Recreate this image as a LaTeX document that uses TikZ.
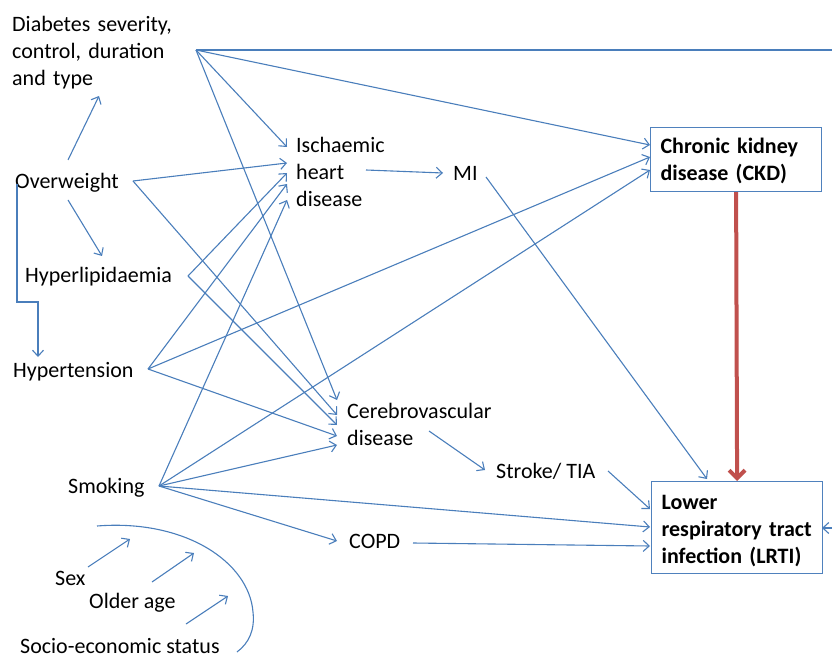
\documentclass[tikz,border=0pt]{standalone}
\usepackage{fontspec}
\setmainfont{Carlito}
\usetikzlibrary{arrows.meta}
\definecolor{linkblue}{HTML}{4A7EBB}
\definecolor{boxblue}{HTML}{4F81BD}
\definecolor{keyred}{HTML}{C0504D}
\begin{document}
\begin{tikzpicture}[x=1pt,y=-1pt,
  lbl/.style={inner sep=0pt, text width=200pt, align=left, anchor=north west,
    font=\fontsize{22}{27}\selectfont},
  word/.style={inner sep=0pt, anchor=base west, font=\fontsize{22}{27}\selectfont},
  box/.style={draw=boxblue, line width=1.2pt, anchor=north west,
    inner xsep=10pt, inner ysep=0pt, text width=151pt, align=left,
    font=\fontsize{22}{27}\selectfont\bfseries},
  link/.style={draw=linkblue, line width=1.1pt, -{Straight Barb[length=6pt,width=11pt]}},
  plain/.style={draw=linkblue, line width=1.1pt},
  key/.style={draw=keyred, line width=4pt, -{Straight Barb[length=8pt,width=16pt]}}
]
\useasboundingbox (0,0) rectangle (832,660);

% ---- factor labels ----
\node[lbl] (dia) at (12,12) {\strut Diabetes severity,\\control, duration\\and type};
\node[word] (ow) at (15,189) {Overweight};
\node[word] (hl) at (25,283) {Hyperlipidaemia};
\node[word] (ht) at (13,377) {Hypertension};
\node[word] (sm) at (68,493) {Smoking};
\node[word] (sex) at (55,585) {Sex};
\node[word] (age) at (89,608) {Older age};
\node[word] (ses) at (20,653) {Socio-economic status};
\node[lbl] (ihd) at (296,133) {\strut Ischaemic\\heart\\disease};
\node[word] (mi) at (453,181) {MI};
\node[lbl] (cv) at (347,399) {\strut Cerebrovascular\\disease};
\node[word] (stroke) at (496,478) {Stroke/ TIA};
\node[word] (copd) at (349,548) {COPD};

% ---- outcome boxes ----
\node[box, minimum height=64pt] (ckd) at (650,127)
  {\rule{0pt}{22pt}Chronic kidney\\disease (CKD)\rule[-7pt]{0pt}{7pt}};
\node[box, minimum height=92pt] (lrti) at (651,481)
  {\rule{0pt}{24pt}Lower\\respiratory tract\\infection (LRTI)\rule[-6pt]{0pt}{6pt}};

% ---- connector end points ----
\coordinate (dia-o) at (196,50);
\coordinate (ow-r) at (133,181);
\coordinate (ow-t) at (68,160);
\coordinate (ow-b) at (68,200);
\coordinate (ow-l) at (17,184);
\coordinate (hl-r) at (188,276);
\coordinate (ht-r) at (148,369);
\coordinate (sm-r) at (159,486);
\coordinate (ihd-o) at (366,170);
\coordinate (mi-o) at (486,177);
\coordinate (cv-o) at (429,431);
\coordinate (st-o) at (608,471);
\coordinate (copd-o) at (413,543);
\coordinate (edge-top) at (832,50);
\coordinate (edge-lrti) at (832,528);

\coordinate (dia-in) at (99,96);
\coordinate (hl-in) at (102,256);
\coordinate (ht-in) at (38,357);
\coordinate (ihd-1) at (287,147);
\coordinate (ihd-2) at (287,163);
\coordinate (ihd-3) at (287,173);
\coordinate (ihd-4) at (287,184);
\coordinate (ihd-5) at (287,200);
\coordinate (ckd-1) at (650,145);
\coordinate (ckd-2) at (650,157);
\coordinate (ckd-3) at (650,170);
\coordinate (cv-1) at (337,400);
\coordinate (cv-2) at (337,415);
\coordinate (cv-3) at (337,425);
\coordinate (cv-4) at (337,436);
\coordinate (cv-5) at (337,445);
\coordinate (mi-in) at (443,173);
\coordinate (st-in) at (485,470);
\coordinate (copd-in) at (337,541);
\coordinate (lrti-t) at (707,479);
\coordinate (lrti-1) at (650,509);
\coordinate (lrti-2) at (650,527);
\coordinate (lrti-3) at (650,546);
\coordinate (lrti-r) at (822,528);

% ---- overweight pathways ----
\draw[link] (ow-t) -- (dia-in);
\draw[link] (ow-b) -- (hl-in);
\draw[link] (ow-l) -- (17,302) -- (38,302) -- (ht-in);

% ---- diabetes ----
\draw[plain] (dia-o) -- (edge-top);
\draw[link] (dia-o) -- (ckd-1);
\draw[link] (dia-o) -- (ihd-1);
\draw[link] (dia-o) -- (cv-1);

% ---- into ischaemic heart disease and cerebrovascular disease ----
\draw[link] (ow-r) -- (ihd-2);
\draw[link] (ow-r) -- (cv-2);
\draw[link] (hl-r) -- (ihd-3);
\draw[link] (hl-r) -- (cv-3);
\draw[link] (ht-r) -- (ihd-4);
\draw[link] (ht-r) -- (ckd-2);
\draw[link] (ht-r) -- (cv-4);
\draw[link] (sm-r) -- (ihd-5);
\draw[link] (sm-r) -- (ckd-3);
\draw[link] (sm-r) -- (cv-5);
\draw[link] (sm-r) -- (lrti-2);
\draw[link] (sm-r) -- (copd-in);

% ---- downstream events ----
\draw[link] (ihd-o) -- (mi-in);
\draw[link] (mi-o) -- (lrti-t);
\draw[link] (cv-o) -- (st-in);
\draw[link] (st-o) -- (lrti-1);
\draw[link] (copd-o) -- (lrti-3);
\draw[link] (edge-lrti) -- (lrti-r);

% ---- CKD to LRTI ----
\draw[key] (ckd.south) -- (lrti.north);

% ---- background factors ----
\coordinate (sex-o) at (88,567);
\coordinate (sex-in) at (130,539);
\coordinate (age-o) at (152,582);
\coordinate (age-in) at (194,553);
\coordinate (ses-o) at (186,624);
\coordinate (ses-in) at (228,596);
\draw[link] (sex-o) -- (sex-in);
\draw[link] (age-o) -- (age-in);
\draw[link] (ses-o) -- (ses-in);
\draw[plain] (97,526) .. controls (185,519) and (249,562) .. (253,612)
  .. controls (255,630) and (249,643) .. (237,652);
\end{tikzpicture}
\end{document}
